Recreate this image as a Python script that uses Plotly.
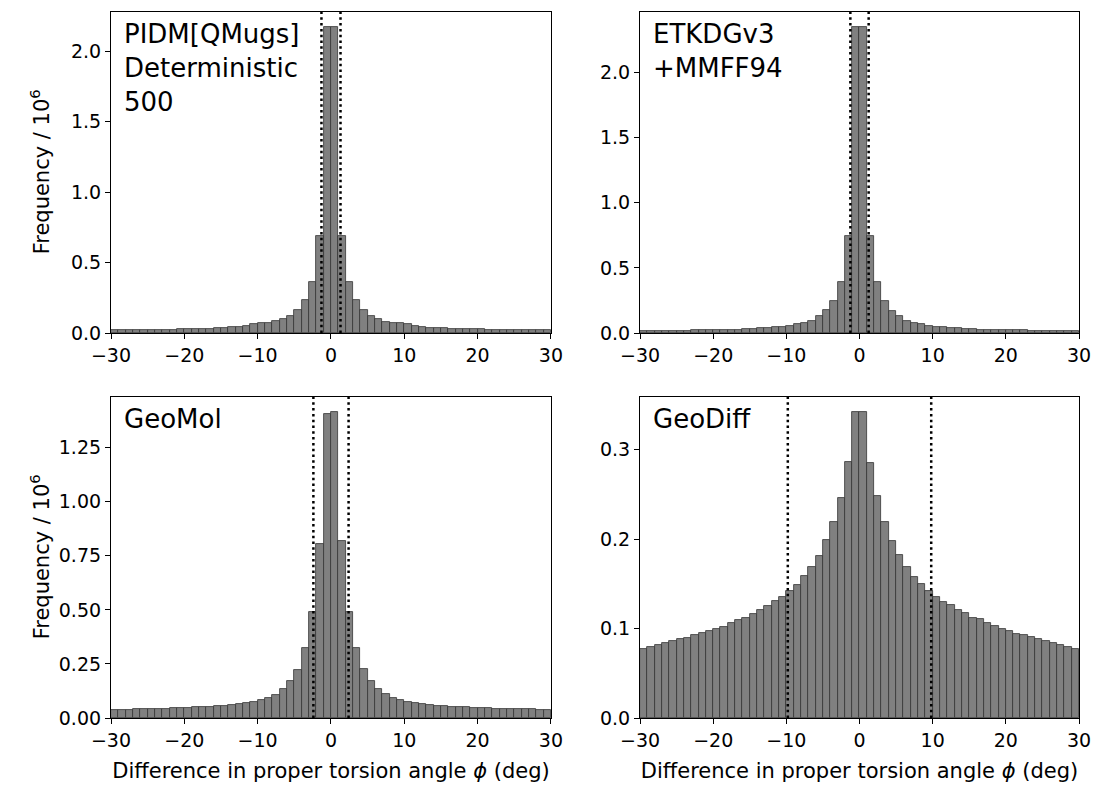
import plotly.graph_objects as go

# Histogram bins (deg): 1-degree bins over the displayed window
bin_edges = list(range(-30, 31))
bin_centers = [(a + b) / 2 for a, b in zip(bin_edges[:-1], bin_edges[1:])]

# Counts per bin, in units of 10^6
pidm_freq = [
    0.023, 0.023, 0.024, 0.024, 0.024, 0.024, 0.024, 0.025, 0.025,
    0.031, 0.031, 0.031, 0.031, 0.031,
    0.038, 0.038, 0.045, 0.045, 0.052, 0.062, 0.069, 0.074, 0.088,
    0.102, 0.123, 0.160, 0.232, 0.360, 0.689,
    2.171, 2.171,
    0.689, 0.360, 0.232, 0.160, 0.123, 0.102, 0.081, 0.074, 0.069,
    0.062, 0.052, 0.045, 0.038, 0.038, 0.038,
    0.031, 0.031, 0.031, 0.031, 0.031,
    0.024, 0.024, 0.024, 0.024, 0.024, 0.024, 0.023, 0.023, 0.023,
]

etkdg_freq = [
    0.018, 0.018, 0.017, 0.017, 0.017, 0.018, 0.018,
    0.025, 0.025, 0.025, 0.025, 0.025, 0.025, 0.025,
    0.032, 0.032, 0.040, 0.040, 0.047, 0.047,
    0.056, 0.066, 0.079, 0.095, 0.128, 0.176, 0.244, 0.389, 0.744,
    2.346, 2.346,
    0.744, 0.389, 0.244, 0.172, 0.130, 0.095, 0.079, 0.067, 0.056,
    0.049, 0.049, 0.041, 0.041, 0.033, 0.033,
    0.026, 0.026, 0.026, 0.026, 0.026, 0.026, 0.026,
    0.018, 0.018, 0.018, 0.018, 0.018, 0.018, 0.018,
]

geomol_freq = [
    0.039, 0.039, 0.039,
    0.043, 0.043, 0.043, 0.043, 0.043,
    0.048, 0.048, 0.048,
    0.052, 0.052, 0.052,
    0.057, 0.057, 0.062, 0.066, 0.071, 0.076, 0.085, 0.094, 0.108,
    0.132, 0.169, 0.224, 0.322, 0.491, 0.807,
    1.406, 1.414,
    0.817, 0.492, 0.322, 0.229, 0.169, 0.136, 0.113, 0.094, 0.085,
    0.076, 0.071, 0.066, 0.062, 0.057, 0.057,
    0.052, 0.052, 0.052, 0.048, 0.048, 0.048,
    0.043, 0.043, 0.043, 0.043, 0.043, 0.043,
    0.039, 0.039,
]

geodiff_freq = [
    0.0769, 0.0795, 0.0814, 0.0836, 0.0859, 0.0885, 0.0896, 0.0926,
    0.0948, 0.0971, 0.0993, 0.1023, 0.1060, 0.1094, 0.1124, 0.1161,
    0.1206, 0.1251, 0.1307, 0.1352, 0.1419, 0.1486, 0.1587, 0.1684,
    0.1811, 0.1990, 0.2192, 0.2460, 0.2863,
    0.3420, 0.3420,
    0.2852, 0.2483, 0.2192, 0.1979, 0.1822, 0.1684, 0.1572, 0.1497,
    0.1419, 0.1352, 0.1299, 0.1262, 0.1206, 0.1172, 0.1124, 0.1105,
    0.1060, 0.1027, 0.1001, 0.0968, 0.0945, 0.0926, 0.0904, 0.0889,
    0.0859, 0.0844, 0.0814, 0.0795, 0.0769,
]

panel_labels = [
    "PIDM[QMugs]<br>Deterministic<br>500",
    "ETKDGv3<br>+MMFF94",
    "GeoMol",
    "GeoDiff",
]
panel_freqs = [pidm_freq, etkdg_freq, geomol_freq, geodiff_freq]

# Dotted reference lines (deg)
threshold_lo = [-1.3, -1.25, -2.4, -9.8]
threshold_hi = [1.3, 1.25, 2.4, 9.8]

x_ticks = [-30, -20, -10, 0, 10, 20, 30]
y_ticks = [
    [0, 0.5, 1.0, 1.5, 2.0],
    [0, 0.5, 1.0, 1.5, 2.0],
    [0, 0.25, 0.5, 0.75, 1.0, 1.25],
    [0, 0.1, 0.2, 0.3],
]
y_tickformats = [".1f", ".1f", ".2f", ".1f"]

x_title = "Difference in proper torsion angle <i>ϕ</i> (deg)"
y_title = "Frequency / 10<sup>6</sup>"

FONT = "DejaVu Sans"
TICK_SIZE = 19
LABEL_SIZE = 21
TEXT_SIZE = 26

x_domains = [[0.0, 0.4545], [0.5465, 1.0], [0.0, 0.4545], [0.5465, 1.0]]
y_domains = [[0.5453, 1.0], [0.5453, 1.0], [0.0, 0.4547], [0.0, 0.4547]]

fig = go.Figure()
layout = {}
shapes = []
annotations = []

for i, freq in enumerate(panel_freqs):
    n = i + 1
    sfx = "" if n == 1 else str(n)
    fig.add_trace(go.Bar(
        x=bin_centers,
        y=freq,
        width=[b - a for a, b in zip(bin_edges[:-1], bin_edges[1:])],
        marker=dict(color="#808080", line=dict(color="#333333", width=0.8)),
        xaxis="x" + sfx,
        yaxis="y" + sfx,
        showlegend=False,
    ))

    axis_common = dict(
        showline=True, linecolor="black", linewidth=1.2, mirror=True,
        ticks="outside", ticklen=5, tickwidth=1.2, tickcolor="black",
        showgrid=False, zeroline=False,
        tickfont=dict(family=FONT, size=TICK_SIZE, color="black"),
    )
    xa = dict(axis_common, domain=x_domains[i], range=[-30, 30],
              tickmode="array", tickvals=x_ticks, anchor="y" + sfx)
    if n in (3, 4):
        xa["title"] = dict(text=x_title, standoff=13,
                           font=dict(family=FONT, size=LABEL_SIZE, color="black"))
    ya = dict(axis_common, domain=y_domains[i],
              range=[0, 1.05 * max(freq)], tickmode="array",
              tickvals=y_ticks[i], tickformat=y_tickformats[i],
              anchor="x" + sfx)
    layout["xaxis" + sfx] = xa
    layout["yaxis" + sfx] = ya

    for xv in (threshold_lo[i], threshold_hi[i]):
        shapes.append(dict(
            type="line", xref="x" + sfx, yref="y" + sfx + " domain",
            x0=xv, x1=xv, y0=0, y1=1,
            line=dict(color="black", width=2.5, dash="2.5px,3.3px"),
        ))

    annotations.append(dict(
        text=panel_labels[i], xref="x" + sfx + " domain",
        yref="y" + sfx + " domain", x=0.025, y=0.985,
        xanchor="left", yanchor="top", align="left", showarrow=False,
        font=dict(family=FONT, size=TEXT_SIZE, color="black"),
    ))

# Shared y-axis titles for the left column
for yc in (1 - (172 - 12) / 706, 1 - (557 - 12) / 706):
    annotations.append(dict(
        text=y_title, xref="paper", yref="paper",
        x=-0.073, y=yc, textangle=-90, showarrow=False,
        xanchor="center", yanchor="middle",
        font=dict(family=FONT, size=LABEL_SIZE, color="black"),
    ))

fig.update_layout(
    **layout,
    shapes=shapes,
    annotations=annotations,
    bargap=0,
    width=1094, height=786,
    margin=dict(l=111, r=15, t=12, b=68),
    paper_bgcolor="white", plot_bgcolor="white",
    font=dict(family=FONT, color="black"),
    template="none",
)

fig.write_html("out.html")
